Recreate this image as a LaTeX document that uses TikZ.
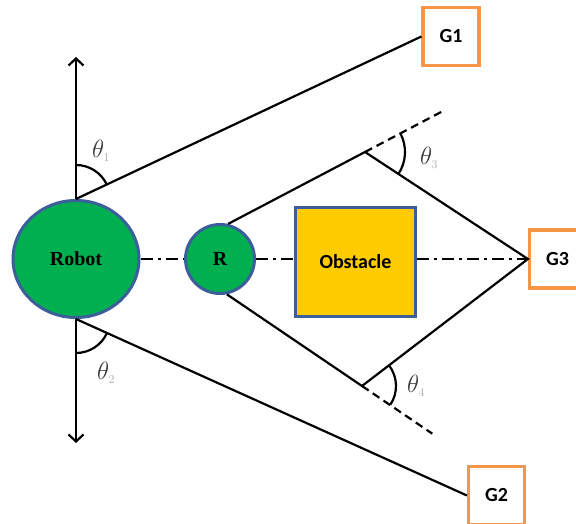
\documentclass[tikz,border=0pt]{standalone}
\usepackage{fontspec}
\setmainfont{Liberation Serif}
\newfontfamily\calfont{Carlito}
\usetikzlibrary{arrows.meta,calc,shapes.geometric}

\definecolor{robotgreen}{RGB}{0,176,80}
\definecolor{edgeblue}{RGB}{60,95,155}
\definecolor{obsyellow}{RGB}{255,204,0}
\definecolor{goalorange}{RGB}{247,150,70}
\definecolor{thetagray}{RGB}{60,60,60}
\definecolor{subgray}{RGB}{170,170,170}

\begin{document}
\begin{tikzpicture}[x=1pt,y=1pt,
  line/.style={line width=2.2pt,black},
  dashline/.style={line width=2.2pt, dash pattern=on 8pt off 5pt},
  dotdash/.style={line width=2.2pt, dash pattern=on 12pt off 5pt on 3pt off 5pt},
  bot/.style={draw=edgeblue, line width=3pt, fill=robotgreen, font=\fontsize{20}{20}\selectfont\bfseries, inner sep=0pt},
  obstaclebox/.style={draw=edgeblue, line width=3pt, fill=obsyellow, minimum width=120pt, minimum height=109pt, inner sep=0pt, font=\calfont\bfseries\fontsize{20}{20}\selectfont},
  goal/.style={draw=goalorange, line width=3.2pt, fill=white, minimum width=56pt, minimum height=58pt, font=\calfont\bfseries\fontsize{20}{20}\selectfont, inner sep=0pt},
  anglearc/.style={line width=2.2pt},
  anglelabel/.style={text=thetagray, font=\fontsize{25}{25}\selectfont, inner sep=0pt, anchor=west},
  axisarrow/.style={line width=2.2pt, -{Straight Barb[length=7pt,width=15pt]}}
]
\clip (0,0) rectangle (576,524);
\fill[white] (0,0) rectangle (576,524);

% nodes
\node[bot, ellipse, minimum width=126pt, minimum height=117pt] (robot) at (76,265) {Robot};
\node[bot, circle, minimum size=69pt] (r) at (220,265) {R};
\node[obstaclebox] (obs) at (355.5,262) {Obstacle};
\node[goal] (g1) at (451,487.5) {G1};
\node[goal] (g3) at (557.5,265) {G3};
\node[goal] (g2) at (496.5,28.5) {G2};

% points
\coordinate (ytop) at (76,467);
\coordinate (ybot) at (76,81);
\coordinate (T) at (365,372);
\coordinate (B) at (362,138);
\coordinate (Tend) at ($(r.77)!1.58!(T)$);
\coordinate (Bend) at ($(r.-79)!1.52!(B)$);

% vertical axis
\draw[axisarrow] (robot.north) -- (ytop);
\draw[axisarrow] (robot.south) -- (ybot);

% lines to goals
\draw[line] (robot.north) -- (g1.west);
\draw[line] (robot.south) -- (g2.west);

% center dash-dot line
\draw[dotdash] (robot.east) -- (r.west);
\draw[dotdash] (r.east) -- (r.east -| obs.west);
\draw[dotdash] (r.east -| obs.east) -- (g3.west);

% diamond path around obstacle
\draw[line, line join=miter] (r.77) -- (T) -- (g3.west) -- (B) -- (r.-79);
\draw[dashline] (T) -- (Tend);
\draw[dashline] (B) -- (Bend);

% angle arcs
\draw[anglearc] ($(robot.north)+(90:34)$) arc[start angle=90, end angle=25, radius=34];
\draw[anglearc] ($(robot.south)+(270:34)$) arc[start angle=270, end angle=335.6, radius=34];
\draw[anglearc] ($(T)+(27.7:40)$) arc[start angle=27.7, end angle=-33.3, radius=40];
\draw[anglearc] ($(B)+(37.4:34)$) arc[start angle=37.4, end angle=-33.7, radius=34];

% angle labels
\node[anglelabel] (t1) at (92,373) {$\theta_{\scriptscriptstyle\textcolor{subgray}{1}}$};
\node[anglelabel] (t2) at (97,151) {$\theta_{\scriptscriptstyle\textcolor{subgray}{2}}$};
\node[anglelabel] (t3) at (420,366) {$\theta_{\scriptscriptstyle\textcolor{subgray}{3}}$};
\node[anglelabel] (t4) at (407,138) {$\theta_{\scriptscriptstyle\textcolor{subgray}{4}}$};
\end{tikzpicture}
\end{document}
